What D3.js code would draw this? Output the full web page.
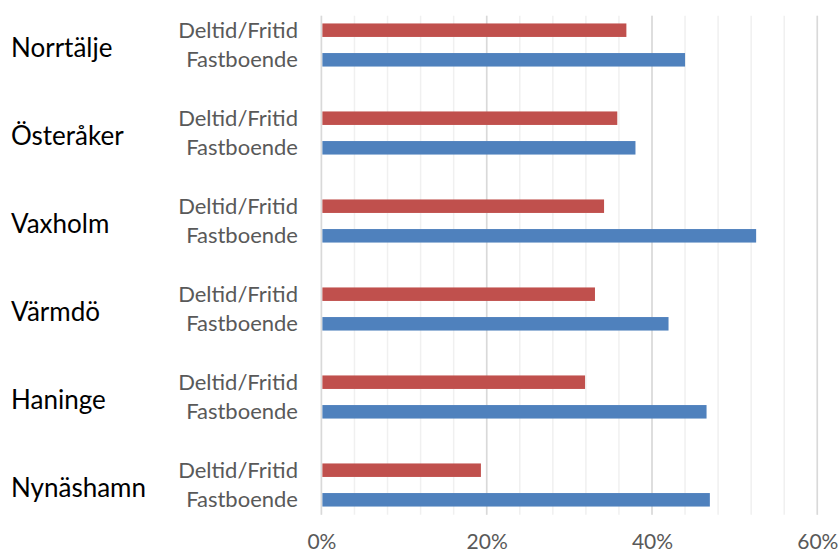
<!DOCTYPE html>
<html>
<head>
<meta charset="utf-8">
<script src="https://cdn.jsdelivr.net/npm/d3@7"></script>
<style>
  html, body { margin: 0; padding: 0; background: #fff; }
  svg { display: block; }
  text { font-family: Lato, "Open Sans", sans-serif; }
</style>
</head>
<body>
<svg id="chart" width="840" height="554"></svg>
<script>
const categories = ["Norrtälje", "Österåker", "Vaxholm", "Värmdö", "Haninge", "Nynäshamn"];
const seriesNames = ["Deltid/Fritid", "Fastboende"];
const deltidValues = [0.369, 0.358, 0.342, 0.331, 0.319, 0.193];
const fastValues = [0.440, 0.380, 0.526, 0.420, 0.466, 0.470];
const tickValues = [0, 0.2, 0.4, 0.6];
const minorTickValues = d3.range(0, 0.6001, 0.04);

const colors = { "Deltid/Fritid": "#C0504D", "Fastboende": "#4F81BD" };

const svg = d3.select("#chart");
const plotTop = 15.7, plotBottom = 514.7;

const x = d3.scaleLinear().domain([0, 0.6]).range([321.4, 817.3]);
const y = d3.scaleBand().domain(categories).range([1, 529]);
const ySub = d3.scalePoint().domain(seriesNames).range([-14.8, 14.8]);
const barH = 13.5;

// minor gridlines
svg.append("g").selectAll("line").data(minorTickValues).join("line")
  .attr("x1", d => x(d)).attr("x2", d => x(d))
  .attr("y1", plotTop).attr("y2", plotBottom)
  .attr("stroke", "#F0F0F0").attr("stroke-width", 1.5);

// major gridlines
svg.append("g").selectAll("line").data(tickValues).join("line")
  .attr("x1", d => x(d)).attr("x2", d => x(d))
  .attr("y1", plotTop).attr("y2", plotBottom)
  .attr("stroke", "#D9D9D9").attr("stroke-width", 1.6);

// x axis labels
const xAxis = d3.axisBottom(x).tickValues(tickValues).tickFormat(d3.format(".0%")).tickSize(0);
const gx = svg.append("g").attr("transform", "translate(0,530)").call(xAxis);
gx.select(".domain").remove();
gx.selectAll("text")
  .attr("dy", null).attr("y", 19)
  .attr("fill", "#595959")
  .style("font-size", "21px");

const rows = [];
categories.forEach((c, i) => {
  rows.push({ cat: c, series: "Deltid/Fritid", value: deltidValues[i] });
  rows.push({ cat: c, series: "Fastboende", value: fastValues[i] });
});

// bars
svg.append("g").selectAll("rect").data(rows).join("rect")
  .attr("x", x(0) + 1)
  .attr("y", d => y(d.cat) + y.bandwidth() / 2 + ySub(d.series) - barH / 2)
  .attr("width", d => x(d.value) - x(0) - 1)
  .attr("height", barH)
  .attr("fill", d => colors[d.series]);

// sub labels
svg.append("g").selectAll("text").data(rows).join("text")
  .attr("x", 298)
  .attr("y", d => y(d.cat) + y.bandwidth() / 2 + ySub(d.series) + 7.5)
  .attr("text-anchor", "end")
  .attr("fill", "#595959")
  .style("font-size", "22px")
  .text(d => d.series);

// category labels
svg.append("g").selectAll("text").data(categories).join("text")
  .attr("x", 11)
  .attr("y", d => y(d) + y.bandwidth() / 2 + 12)
  .attr("fill", "#000")
  .style("font-size", "26px")
  .text(d => d);
</script>
</body>
</html>
